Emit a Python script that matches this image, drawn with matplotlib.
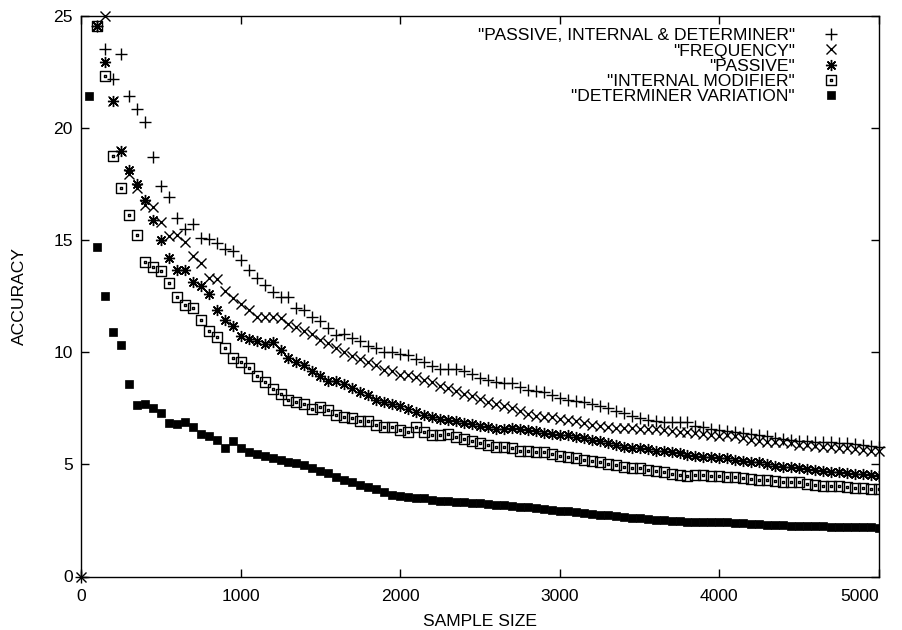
import numpy as np
import matplotlib
matplotlib.use("Agg")
import matplotlib.pyplot as plt
from matplotlib.path import Path

plt.rcParams['font.family'] = ['Liberation Sans', 'DejaVu Sans']
plt.rcParams['font.size'] = 12.6

# sample sizes on a 50-step grid
sizes = np.arange(50, 5001, 50)

plus_vals = [24.55, 23.5, 22.2, 23.3, 21.4, 20.85, 20.25, 18.7, 17.4, 16.9,
             16.0, 15.5, 15.7, 15.1, 15.05, 14.87, 14.6, 14.5, 14.13,
             13.65, 13.3, 13.0, 12.68, 12.45, 12.45, 11.98, 11.86, 11.59, 11.37,
             11.09, 10.77, 10.82, 10.64, 10.48, 10.27, 10.2, 10.0, 10.0, 9.92,
             9.88, 9.7, 9.55, 9.38, 9.23, 9.26, 9.26, 9.14, 9.01, 8.84,
             8.77, 8.69, 8.63, 8.62, 8.44, 8.32, 8.26, 8.22, 8.07, 7.94,
             7.89, 7.84, 7.8, 7.69, 7.59, 7.5, 7.4, 7.29, 7.17, 7.05,
             6.98, 6.92, 6.9, 6.9, 6.9, 6.88, 6.73, 6.65, 6.58, 6.53,
             6.5, 6.46, 6.4, 6.35, 6.32, 6.28, 6.16, 6.13, 6.1, 6.03,
             6.06, 5.98, 6.0, 5.98, 5.94, 5.94, 5.91, 5.88, 5.83, 5.79]

freq_vals = [24.55, 25.0, 21.2, 18.97, 17.93, 17.3, 16.55, 16.47, 15.8, 15.2,
             15.21, 14.9, 14.27, 13.97, 13.32, 13.25, 12.72, 12.43, 12.14,
             11.86, 11.59, 11.56, 11.59, 11.53, 11.27, 11.12, 10.94, 10.79, 10.55,
             10.4, 10.2, 10.0, 9.81, 9.7, 9.56, 9.44, 9.21, 9.18, 8.98,
             8.99, 8.91, 8.77, 8.66, 8.51, 8.39, 8.26, 8.14, 8.04, 7.92,
             7.8, 7.69, 7.62, 7.5, 7.4, 7.25, 7.17, 7.1, 7.1, 7.02,
             6.98, 6.92, 6.83, 6.77, 6.73, 6.68, 6.61, 6.61, 6.61, 6.58,
             6.58, 6.58, 6.53, 6.5, 6.46, 6.46, 6.4, 6.35, 6.31, 6.28,
             6.3, 6.25, 6.17, 6.1, 6.06, 6.01, 6.01, 5.98, 5.94, 5.88,
             5.88, 5.83, 5.79, 5.76, 5.73, 5.71, 5.68, 5.64, 5.61, 5.58]

passive_vals = [24.55, 22.95, 21.2, 18.97, 18.1, 17.5, 16.8, 15.9, 15.0, 14.2,
                13.68, 13.68, 13.13, 12.93, 12.6, 11.86, 11.44, 11.15, 10.7,
                10.6, 10.52, 10.37, 10.45, 10.1, 9.73, 9.56, 9.44, 9.18, 8.93,
                8.71, 8.71, 8.59, 8.41, 8.22, 8.11, 7.89, 7.77, 7.69, 7.58,
                7.47, 7.32, 7.2, 7.13, 7.02, 6.98, 6.95, 6.83, 6.8, 6.72,
                6.68, 6.58, 6.58, 6.6, 6.58, 6.53, 6.47, 6.38, 6.35, 6.31,
                6.31, 6.24, 6.18, 6.1, 6.03, 5.95, 5.86, 5.79, 5.73, 5.71,
                5.67, 5.61, 5.58, 5.54, 5.49, 5.43, 5.39, 5.34, 5.31, 5.3,
                5.27, 5.21, 5.16, 5.12, 5.09, 5.01, 4.94, 4.9, 4.87, 4.82,
                4.79, 4.75, 4.72, 4.67, 4.64, 4.6, 4.57, 4.57, 4.54, 4.5]

internal_vals = [24.55, 22.3, 18.74, 17.32, 16.1, 15.23, 14.03, 13.8, 13.6, 13.07,
                 12.48, 12.11, 11.96, 11.43, 10.94, 10.68, 10.18, 9.76, 9.54,
                 9.3, 8.96, 8.67, 8.37, 8.14, 7.87, 7.77, 7.69, 7.47, 7.54,
                 7.42, 7.2, 7.1, 7.05, 6.92, 6.95, 6.75, 6.65, 6.65, 6.53,
                 6.46, 6.65, 6.43, 6.33, 6.33, 6.35, 6.24, 6.13, 6.06, 5.94,
                 5.87, 5.76, 5.76, 5.72, 5.61, 5.58, 5.57, 5.54, 5.46, 5.39,
                 5.34, 5.28, 5.21, 5.13, 5.09, 5.01, 4.97, 4.89, 4.84, 4.82,
                 4.76, 4.72, 4.64, 4.57, 4.52, 4.46, 4.54, 4.54, 4.49, 4.46,
                 4.45, 4.42, 4.39, 4.35, 4.32, 4.3, 4.24, 4.23, 4.2, 4.2,
                 4.12, 4.08, 4.05, 4.05, 4.02, 3.97, 3.94, 3.93, 3.9, 3.9]

det_vals = [21.4, 14.7, 12.5, 10.9, 10.3, 8.6, 7.65, 7.7, 7.5, 7.3,
            6.85, 6.8, 6.9, 6.65, 6.35, 6.25, 6.1, 5.75, 6.05, 5.75,
            5.55, 5.45, 5.35, 5.28, 5.2, 5.1, 5.05, 4.95, 4.85, 4.72,
            4.6, 4.45, 4.32, 4.2, 4.1, 3.98, 3.9, 3.78, 3.65, 3.6,
            3.56, 3.52, 3.48, 3.43, 3.38, 3.35, 3.32, 3.31, 3.29, 3.26,
            3.22, 3.2, 3.18, 3.15, 3.12, 3.08, 3.05, 3.0, 2.96, 2.94,
            2.92, 2.88, 2.83, 2.8, 2.76, 2.72, 2.68, 2.65, 2.62, 2.59,
            2.56, 2.53, 2.5, 2.49, 2.47, 2.44, 2.42, 2.41, 2.43, 2.45,
            2.42, 2.4, 2.37, 2.34, 2.32, 2.31, 2.3, 2.29, 2.27, 2.26,
            2.25, 2.24, 2.23, 2.22, 2.21, 2.2, 2.2, 2.19, 2.19, 2.18]

labels = ['"PASSIVE, INTERNAL & DETERMINER"', '"FREQUENCY"', '"PASSIVE"',
          '"INTERNAL MODIFIER"', '"DETERMINER VARIATION"']
x_ticks = [0, 1000, 2000, 3000, 4000, 5000]
y_ticks = [0, 5, 10, 15, 20, 25]

# boxed square with a small dot in the middle (gnuplot style)
box_dot = Path([(-1, -1), (1, -1), (1, 1), (-1, 1), (-1, -1),
                (-0.12, -0.12), (0.12, -0.12), (0.12, 0.12), (-0.12, 0.12), (-0.12, -0.12)],
               [Path.MOVETO, Path.LINETO, Path.LINETO, Path.LINETO, Path.CLOSEPOLY,
                Path.MOVETO, Path.LINETO, Path.LINETO, Path.LINETO, Path.CLOSEPOLY])

fig = plt.figure(figsize=(9.03, 6.3), dpi=100)
ax = fig.add_axes([81 / 903, 1 - 576.5 / 630, 798 / 903, 560.8 / 630])

def xs(vals):
    return sizes[-len(vals):]

ax.plot(np.r_[0, xs(plus_vals)], np.r_[0, plus_vals], ls='none', marker='+',
        ms=8, mew=1.0, color='black', label=labels[0], clip_on=False)
ax.plot(np.r_[0, xs(freq_vals)], np.r_[0, freq_vals], ls='none', marker='x',
        ms=6.5, mew=1.0, color='black', label=labels[1], clip_on=False)
ax.plot(xs(passive_vals), passive_vals, ls='none', marker=(8, 2, 0),
        ms=8, mew=1.0, color='black', label=labels[2])
ax.plot(xs(internal_vals), internal_vals, ls='none', marker=box_dot,
        ms=7, mew=1.0, mfc='none', color='black', label=labels[3])
ax.plot(xs(det_vals), det_vals, ls='none', marker='s',
        ms=6, mew=0.5, color='black', label=labels[4])

ax.set_xlim(0, 5000)
ax.set_ylim(0, 25)
ax.set_xticks(x_ticks)
ax.set_yticks(y_ticks)
ax.tick_params(direction='in', length=6, width=1, top=True, right=True, labelsize=12.6)
ax.tick_params(axis='x', pad=9)
ax.tick_params(axis='y', pad=6)
ax.get_xticklabels()[-1].set_horizontalalignment('right')
for s in ax.spines.values():
    s.set_linewidth(1)

ax.set_xlabel('SAMPLE SIZE')
ax.set_ylabel('ACCURACY')
ax.xaxis.set_label_coords(0.5, -0.066)
ax.yaxis.set_label_coords(-0.068, 0.5)

ax.legend(loc='upper right', bbox_to_anchor=(0.981, 1.006), frameon=False,
          markerfirst=False, fontsize=12.6, handletextpad=1.05, labelspacing=0.0,
          handlelength=2.0, borderpad=0.4)

fig.savefig('out.png', dpi=100)
